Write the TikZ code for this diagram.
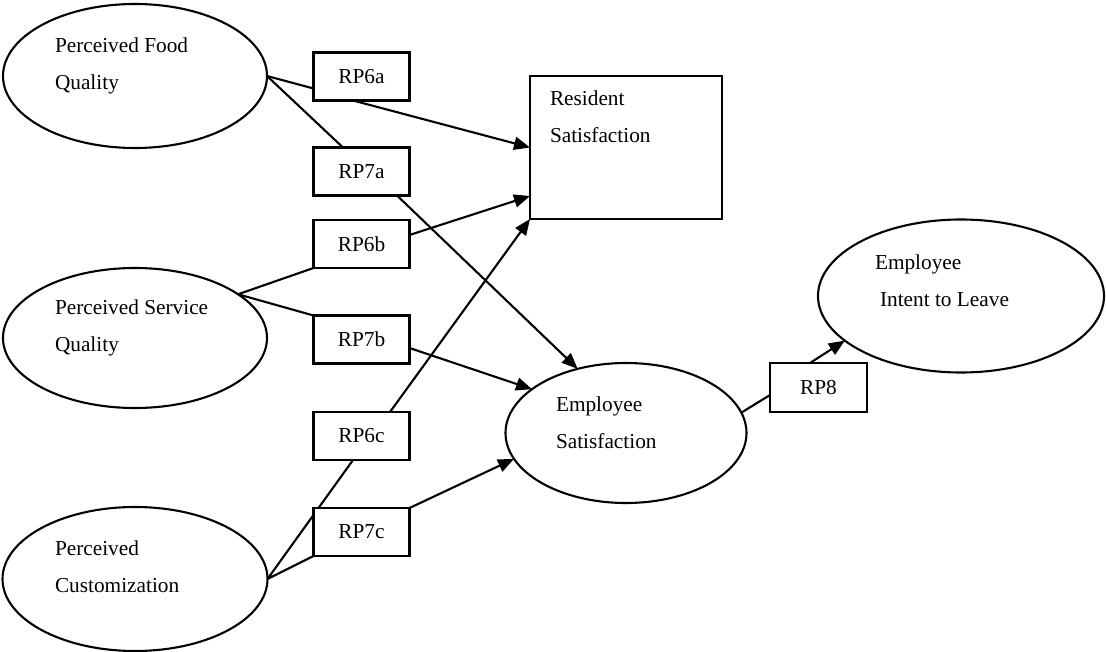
\documentclass[tikz,border=0pt]{standalone}
\usepackage{fontspec}
\setmainfont{Liberation Serif}
\usetikzlibrary{arrows.meta,shapes.geometric,backgrounds}
\begin{document}
\begin{tikzpicture}[x=1pt,y=-1pt,
  every node/.style={inner sep=0pt,outer sep=0pt},
  lbl/.style={font=\fontsize{21.3}{37}\selectfont,align=left,anchor=base west},
  oval/.style={draw,ellipse,line width=2.1pt,fill=white},
  bigbox/.style={draw,rectangle,line width=2.1pt,fill=white},
  rpbox/.style={draw,rectangle,line width=2.1pt,fill=white,minimum width=96pt,minimum height=48pt,font=\fontsize{21.3}{26}\selectfont},
  link/.style={line width=2.1pt},
  arr/.style={line width=2.1pt,-{Triangle[length=16pt,width=13pt]}}]
\useasboundingbox (0,0) rectangle (1106,652);
% latent constructs
\node[oval,minimum width=264pt,minimum height=144pt] (pfq) at (135,76) {};
\node[oval,minimum width=264pt,minimum height=140pt] (psq) at (135,338) {};
\node[oval,minimum width=265pt,minimum height=144pt] (pc) at (135,579) {};
\node[oval,minimum width=241pt,minimum height=140pt] (es) at (626,433) {};
\node[oval,minimum width=286pt,minimum height=153pt] (eil) at (961,296) {};
\node[bigbox,minimum width=192pt,minimum height=143pt] (rs) at (626,147.5) {};
% texts (anchored at the baseline of their last line)
\node[lbl] (tpfq) at (55,90) {Perceived Food\\Quality};
\node[lbl] (tpsq) at (55,352) {Perceived Service\\Quality};
\node[lbl] (tpc) at (55,592) {Perceived\\Customization};
\node[lbl] (trs) at (550,143) {Resident\\Satisfaction};
\node[lbl] (tes) at (556,448) {Employee\\Satisfaction};
\node[lbl] (teil) at (875,307) {Employee\\\hspace*{5pt}Intent to Leave};
% RP boxes
\node[rpbox] (rp6a) at (361.5,76.5) {RP6a};
\node[rpbox] (rp7a) at (361.5,171.5) {RP7a};
\node[rpbox] (rp6b) at (361.5,244) {RP6b};
\node[rpbox] (rp7b) at (361.5,339.5) {RP7b};
\node[rpbox] (rp6c) at (361.5,436) {RP6c};
\node[rpbox] (rp7c) at (361.5,532) {RP7c};
\node[rpbox,minimum width=97pt,minimum height=49pt] (rp8) at (818.5,387.5) {RP8};
% connectors
\begin{pgfonlayer}{background}
\draw[link] (pfq.east) -- ([yshift=12pt]rp6a.south west);
\draw[link] (pfq.east) -- ([xshift=-18.5pt]rp7a.north);
\draw[arr] ([xshift=-8.5pt]rp6a.south) -- (rs.west);
\draw[arr] ([xshift=35.5pt]rp7a.south) -- (es.127);
\draw[link] (rp6b.south west) -- (psq.23) -- (rp7b.north west);
\draw[arr] ([yshift=9pt]rp6b.east) -- ([yshift=23pt]rs.south west);
\draw[arr] ([yshift=-8.5pt]rp7b.east) -- (es.155);
\draw[link] ([xshift=-8.5pt]rp6c.south) -- (pc.east) -- (rp7c.south west);
\draw[arr] ([xshift=28.5pt]rp6c.north) -- (rs.south west);
\draw[arr] (rp7c.north east) -- (es.193);
\draw[link] (es.10) -- ([yshift=-7.5pt]rp8.west);
\draw[arr] ([xshift=-8.5pt]rp8.north) -- (eil.201);
\end{pgfonlayer}
\end{tikzpicture}
\end{document}
